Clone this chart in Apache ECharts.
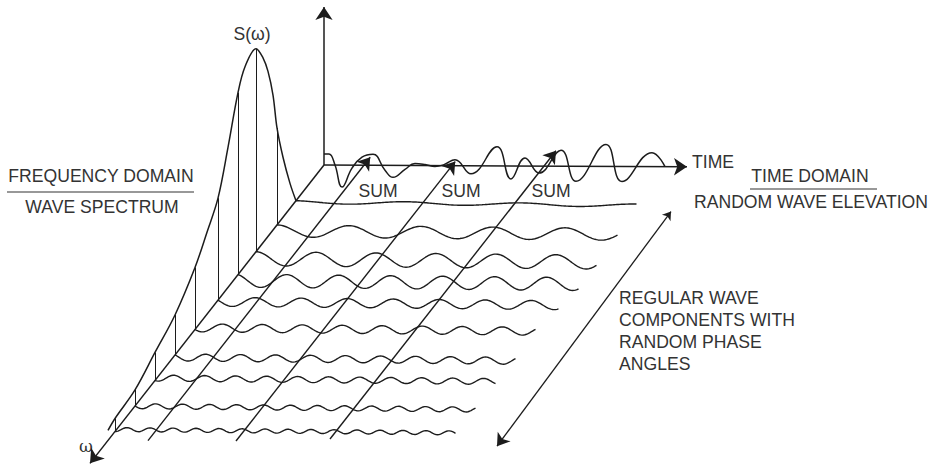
<!DOCTYPE html>
<html><head><meta charset="utf-8">
<script src="https://cdn.jsdelivr.net/npm/echarts@6/dist/echarts.min.js"></script>
<style>html,body{margin:0;padding:0;background:#fff}#c{width:935px;height:466px}</style>
</head><body><div id="c"></div>
<script>
// ================= DATA =================
// Regular wave components, back (low ω) to front (high ω)
const componentK = [1.4, 2.35, 3.4, 4.3, 5.3, 6.45, 7.45, 8.45, 9.45, 10.45];   // position along ω axis
const componentS = [0, 97, 203, 182, 102, 62, 40, 28, 16, 13];                  // spectral ordinate S(ω)
const componentAmp = [1.5, 6, 7, 6.5, 4.5, 4, 3.5, 3, 2.5, 2];                  // wave amplitude
const componentWavelength = [115, 72, 60, 52, 46, 40, 35, 31, 27, 23];           // wavelength along time
const componentPhase = [0.3, 0, 0, 0.4, 1.2, 2.0, 0.8, 2.5, 1.5, 3.0];           // random phase (rad)
const componentDuration = 341;

// Wave spectrum S(ω) envelope
const spectrumK = [10.8, 10.45, 9.45, 8.45, 7.45, 6.45, 5.85, 5.3, 4.8, 4.3, 3.95, 3.4, 3.05, 2.8, 2.55, 2.35, 2.05, 1.7, 1.4];
const spectrumS = [10, 13, 16, 28, 40, 62, 82, 102, 140, 182, 199, 203, 185, 165, 135, 97, 60, 25, 0];

// Random wave elevation (sum), along the time axis
const elevationT = [0, 5, 11, 18, 28, 38, 49, 61, 69, 81, 91, 101, 111, 120, 131, 147, 173, 187, 201, 215, 237, 252, 282, 298, 328, 341];
const elevationE = [11, 11, 0, -22, -3, 8, 11, -5, -12, -4, 2, 1, -1, 1, 6, -8, 19, -13, 8, -7, 16, -15, 22, -15, 14, 0];

// SUM arrows: time position, start/end along ω axis
const sumT = [40, 128, 220];
const sumStartK = [10.8, 10.8, 10.7];
const sumEndK = [-0.31, -0.16, -0.6];
const sumLabel = ['SUM', 'SUM', 'SUM'];

// Axes extents
const omegaAxisEndK = 11.7;
const timeAxisEndT = 363;
const amplitudeAxisTop = 158;
// Range arrow across the components [k, t]
const rangeArrowStart = [1.75, 382];
const rangeArrowEnd = [10.95, 392];

// ================= PROJECTION (layout) =================
const O = [324, 165];
const KX = -20, KY = 25.5;
const TY = 0.005, WAVE_TY = 0.01;
function proj(k, t, h, ty) { return [O[0] + KX * k + t, O[1] + KY * k + (ty === undefined ? TY : ty) * t - h]; }

const INK = '#1c1c1c';
const TEXT = '#333';
const FONT = '"Liberation Sans", Arial, sans-serif';
const FS = 17.6;

const series = [];

// wave components
componentK.forEach((k, i) => {
  const pts = [];
  const A = componentAmp[i], L = componentWavelength[i], ph = componentPhase[i];
  for (let t = 0; t <= componentDuration; t += 1.5) {
    const eta = A * Math.cos(2 * Math.PI * t / L + ph) - A * Math.cos(ph);
    pts.push(proj(k, t, eta, WAVE_TY));
  }
  series.push({ type: 'line', data: pts, showSymbol: false, silent: true, animation: false,
    lineStyle: { color: INK, width: 1.4 } });
});

// spectral ordinates
series.push({ type: 'lines', coordinateSystem: 'cartesian2d', silent: true, animation: false,
  lineStyle: { color: INK, width: 1, opacity: 1 },
  data: componentK.map((k, i) => ({ coords: [proj(k, 0, 0), proj(k, 0, componentS[i])] })).filter((d, i) => componentS[i] > 0)
});

// spectrum envelope
series.push({ type: 'line', smooth: 0.35, showSymbol: false, silent: true, animation: false,
  lineStyle: { color: INK, width: 1.5 },
  data: spectrumK.map((k, i) => proj(k, 0, spectrumS[i])) });

// random wave elevation
series.push({ type: 'line', smooth: 0.45, showSymbol: false, silent: true, animation: false,
  lineStyle: { color: INK, width: 1.5 },
  data: elevationT.map((t, i) => proj(0, t, elevationE[i])) });

// axes with arrows
series.push({ type: 'lines', coordinateSystem: 'cartesian2d', silent: true, animation: false,
  symbol: ['none', 'arrow'], symbolSize: [9, 13],
  lineStyle: { color: INK, width: 1.5, opacity: 1 },
  data: [
    { coords: [proj(0, 0, 0), proj(omegaAxisEndK, 0, 0)] },
    { coords: [proj(0, 0, 0), proj(0, timeAxisEndT, 0)] },
    { coords: [proj(0, 0, 0), proj(0, 0, amplitudeAxisTop)] }
  ] });

// SUM arrows
series.push({ type: 'lines', coordinateSystem: 'cartesian2d', silent: true, animation: false,
  symbol: ['none', 'arrow'], symbolSize: [8, 12],
  lineStyle: { color: INK, width: 1.4, opacity: 1 },
  data: sumT.map((t, i) => ({ coords: [proj(sumStartK[i], t, 0), proj(sumEndK[i], t, 0)] })) });

// range double arrow
series.push({ type: 'lines', coordinateSystem: 'cartesian2d', silent: true, animation: false,
  symbol: ['arrow', 'arrow'], symbolSize: [8, 12],
  lineStyle: { color: INK, width: 1.3, opacity: 1 },
  data: [{ coords: [proj(rangeArrowStart[0], rangeArrowStart[1], 0), proj(rangeArrowEnd[0], rangeArrowEnd[1], 0)] }] });

function txt(text, x, y, size, align, family) {
  return { type: 'text', x: x, y: y, silent: true,
    style: { text: text, fill: TEXT, font: size + 'px ' + (family || FONT), textAlign: align || 'center', textVerticalAlign: 'middle', lineHeight: 22 } };
}
const sumLabelX = [378, 461, 551];
const graphic = [
  txt('S(ω)', 252, 34, FS),
  txt('FREQUENCY DOMAIN', 101, 176, FS),
  { type: 'line', silent: true, shape: { x1: 7, y1: 192, x2: 194, y2: 192 }, style: { stroke: TEXT, lineWidth: 1.2 } },
  txt('WAVE SPECTRUM', 102, 207, FS),
  txt('TIME', 692, 162, FS, 'left'),
  txt('TIME DOMAIN', 810, 176, FS),
  { type: 'line', silent: true, shape: { x1: 750, y1: 189, x2: 877, y2: 189 }, style: { stroke: TEXT, lineWidth: 1.2 } },
  txt('RANDOM WAVE ELEVATION', 811, 202, FS),
  txt('REGULAR WAVE\nCOMPONENTS WITH\nRANDOM PHASE\nANGLES', 619, 331, FS, 'left'),
  txt('ω', 86, 446, 17, 'center', '"DejaVu Serif", "Liberation Serif", serif')
].concat(sumLabel.map((s, i) => txt(s, sumLabelX[i], 191, FS)));

const chart = echarts.init(document.getElementById('c'), null, { renderer: 'svg' });
chart.setOption({
  animation: false,
  backgroundColor: '#fff',
  grid: { left: 0, right: 0, top: 0, bottom: 0 },
  xAxis: { type: 'value', min: 0, max: 935, show: false },
  yAxis: { type: 'value', min: 0, max: 466, inverse: true, show: false },
  series: series,
  graphic: graphic
});
</script></body></html>
